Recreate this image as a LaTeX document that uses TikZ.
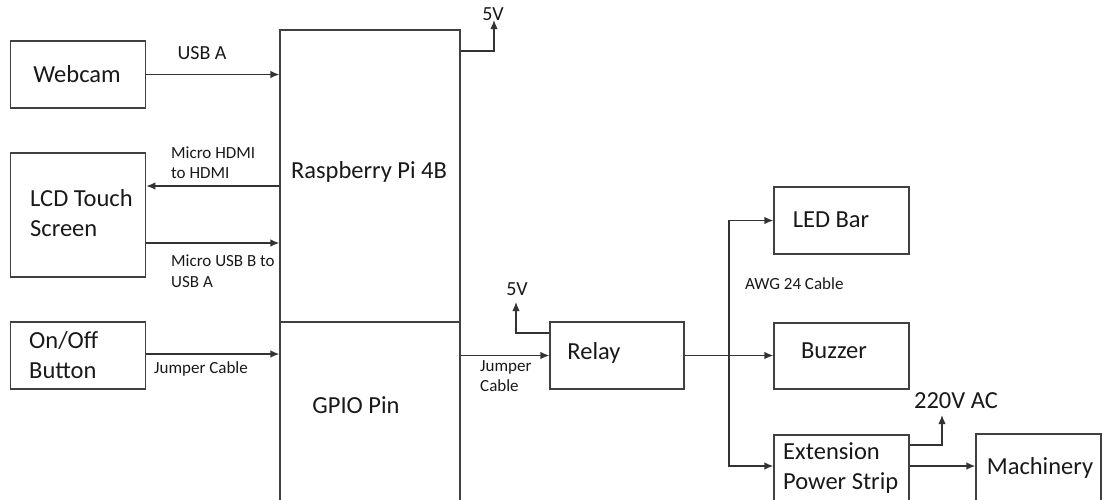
\documentclass[tikz,border=0pt]{standalone}
\usepackage{fontspec}
\setmainfont{Carlito}
\usetikzlibrary{arrows.meta}
\begin{document}
\begin{tikzpicture}[x=1pt,y=-1pt,
  box/.style={draw=black!75, line width=1.3pt, inner sep=0pt},
  arr/.style={draw=black!80, line width=1.3pt, -{Latex[length=9pt,width=7.5pt]}},
  ln/.style={draw=black!80, line width=1.3pt},
  big/.style={font=\fontsize{24.5}{30}\selectfont, inner sep=0pt, text=black!90},
  mid/.style={font=\fontsize{20}{24}\selectfont, inner sep=0pt, text=black!90},
  small/.style={font=\fontsize{17}{20.5}\selectfont, inner sep=0pt, align=left, text=black!90}]
\useasboundingbox (0,0) rectangle (1104,499);
\clip (0,0) rectangle (1104,499);
% boxes
\node[box, minimum width=135pt, minimum height=67pt] (webcam) at (78.2,74.5) {};
\node[box, minimum width=135pt, minimum height=124pt] (lcd) at (78.2,215) {};
\node[box, minimum width=135pt, minimum height=67pt] (onoff) at (78.2,355.5) {};
\node[box, minimum width=180pt, minimum height=292pt] (rpi) at (370,176) {};
\node[box, minimum width=180pt, minimum height=208pt] (gpio) at (370,426) {};
\node[box, minimum width=134pt, minimum height=67pt] (relay) at (617,355.5) {};
\node[box, minimum width=135pt, minimum height=67pt] (led) at (841.5,220.5) {};
\node[box, minimum width=135pt, minimum height=66pt] (buzzer) at (841.5,356) {};
\node[box, minimum width=135pt, minimum height=95pt] (ext) at (841.5,482.5) {};
\node[box, minimum width=125pt, minimum height=96pt] (mach) at (1038.5,482) {};
% box texts
\node[big] (twebcam) at (77,74) {Webcam};
\node[big, align=left, anchor=west] (tlcd) at (30,213) {LCD Touch\\Screen};
\node[big, align=left, anchor=west] (tonoff) at (29,355.5) {On/Off\\Button};
\node[big] (trpi) at (369,172) {Raspberry Pi 4B};
\node[big] (tgpio) at (356,405) {GPIO Pin};
\node[big] (trelay) at (594,353) {Relay};
\node[big] (tled) at (831,220) {LED Bar};
\node[big] (tbuzz) at (834,351) {Buzzer};
\node[big, align=left, anchor=west] (text) at (783,468.5) {Extension\\Power Strip};
\node[big] (tmach) at (1040,468) {Machinery};
\node[big] (v220) at (956,401) {220V AC};
\node[mid] (v5a) at (493,14) {5V};
\node[mid] (v5b) at (517,289) {5V};
% connector labels
\node[mid] (lusb) at (202,53) {USB A};
\node[small, anchor=west] (lhdmi) at (171,162.5) {Micro HDMI\\to HDMI};
\node[small, anchor=west] (lmusb) at (171,271) {Micro USB B to\\USB A};
\node[small, anchor=west] (ljump1) at (154,369) {Jumper Cable};
\node[small, anchor=west] (ljump2) at (480,376) {Jumper\\Cable};
\node[small, anchor=west] (lawg) at (745,284) {AWG 24 Cable};
% helper coordinates
\coordinate (tip5a) at (494,20);
\coordinate (tip5b) at (516,302);
\coordinate (tip220) at (942,415);
\coordinate (br) at (729,355.5);
\coordinate (yhdmi) at (0,186);
\coordinate (yusb) at (0,243);
\coordinate (yjmp) at (0,354);
\coordinate (y5a) at (0,51);
\coordinate (y5b) at (0,333);
\coordinate (yext) at (0,466);
\coordinate (y220) at (0,445);
% connectors
\draw[arr] (webcam.east) -- (webcam.east -| rpi.west);
\draw[arr] (rpi.west |- yhdmi) -- (lcd.east |- yhdmi);
\draw[arr] (lcd.east |- yusb) -- (rpi.west |- yusb);
\draw[arr] (onoff.east |- yjmp) -- (gpio.west |- yjmp);
\draw[arr] (gpio.east |- relay.west) -- (relay.west);
\draw[arr] (rpi.east |- y5a) -| (tip5a);
\draw[arr] (relay.west |- y5b) -| (tip5b);
\draw[ln] (relay.east) -- (br);
\draw[arr] (br) -- (br -| buzzer.west);
\draw[arr] (br) |- (led.west);
\draw[arr] (br) |- (ext.west |- yext);
\draw[arr] (ext.east |- y220) -| (tip220);
\draw[arr] (ext.east |- yext) -- (mach.west |- yext);
\end{tikzpicture}
\end{document}
